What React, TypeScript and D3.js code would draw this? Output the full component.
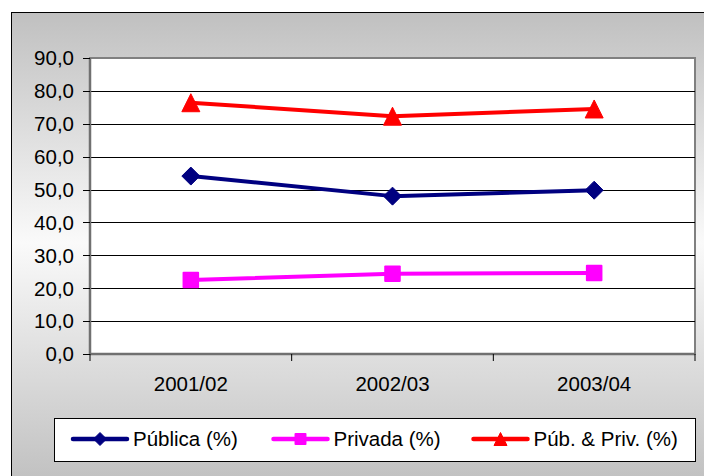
import { useMemo } from 'react';
import * as d3 from 'd3';

const categories = ['2001/02', '2002/03', '2003/04'];
const publica = [54.1, 48.0, 49.8];
const privada = [22.5, 24.4, 24.6];
const pubPriv = [76.4, 72.3, 74.5];
const yTickValues = [0, 10, 20, 30, 40, 50, 60, 70, 80, 90];

const series = [
  { label: 'Pública (%)', values: publica, color: '#000080', marker: 'diamond' },
  { label: 'Privada (%)', values: privada, color: '#FF00FF', marker: 'square' },
  { label: 'Púb. & Priv. (%)', values: pubPriv, color: '#FF0000', marker: 'triangle' },
];

const FONT = '"Liberation Sans", Arial, sans-serif';
const FS = 20.5;
const W = 704;
const H = 476;

const ptLocale = d3.formatLocale({ decimal: ',', thousands: '.', grouping: [3], currency: ['', ''] });
const fmt = ptLocale.format('.1f');

function Marker({ type, x, y, size, color }: { type: string; x: number; y: number; size: number; color: string }) {
  const h = size / 2;
  if (type === 'diamond') {
    return <path d={`M${x},${y - h}L${x + h},${y}L${x},${y + h}L${x - h},${y}Z`} fill={color} stroke={color} strokeWidth={1} strokeLinejoin="round" />;
  }
  if (type === 'square') {
    const s = size * 0.92;
    return <rect x={x - s / 2} y={y - s / 2} width={s} height={s} rx={1} fill={color} />;
  }
  return <path d={`M${x},${y - h}L${x + h},${y + h}L${x - h},${y + h}Z`} fill={color} stroke={color} strokeWidth={1} strokeLinejoin="round" />;
}

export default function App() {
  const plot = { left: 90, right: 695, top: 58, bottom: 354 };

  const { x, y } = useMemo(() => {
    const x = d3.scaleBand<string>().domain(categories).range([plot.left, plot.right]).padding(0);
    const y = d3.scaleLinear().domain([0, 90]).range([plot.bottom, plot.top]);
    return { x, y };
  }, []);

  const cx = (c: string) => (x(c) ?? 0) + x.bandwidth() / 2;
  const line = d3.line<number>()
    .x((_, i) => cx(categories[i]))
    .y((v) => y(v));

  const boundaries = [...categories.map((c) => x(c) ?? 0), plot.right];
  const legendX = [71, 271.5, 471.5];

  return (
    <svg width={W} height={H} style={{ position: 'absolute', left: 0, top: 0, display: 'block' }}>
      <defs>
        <linearGradient id="bg" x1="0" y1="0" x2="0" y2="1">
          <stop offset="0" stopColor="#C0C0C0" />
          <stop offset="0.48" stopColor="#FAFAFA" />
          <stop offset="1" stopColor="#BEBEBE" />
        </linearGradient>
      </defs>
      <rect x={0} y={0} width={W} height={H} fill="#fff" />
      {/* chart area */}
      <rect x={11.5} y={12.5} width={W} height={480} fill="url(#bg)" stroke="#000" strokeWidth={1} />

      {/* plot area */}
      <rect x={plot.left} y={plot.top} width={plot.right - plot.left} height={plot.bottom - plot.top} fill="#fff" stroke="#808080" strokeWidth={2} />

      {/* gridlines */}
      {yTickValues.filter((t) => t > 0 && t < 90).map((t) => (
        <line key={`g${t}`} x1={plot.left} x2={plot.right} y1={Math.round(y(t)) + 0.5} y2={Math.round(y(t)) + 0.5} stroke="#000" strokeWidth={1} />
      ))}

      {/* axes */}
      <line x1={plot.left} x2={plot.left} y1={plot.top} y2={plot.bottom} stroke="#707070" strokeWidth={2.5} />
      <line x1={plot.left} x2={plot.right} y1={plot.bottom} y2={plot.bottom} stroke="#707070" strokeWidth={2.5} />

      {yTickValues.map((t) => (
        <g key={`yt${t}`}>
          <line x1={plot.left - 7} x2={plot.left} y1={Math.round(y(t)) + 0.5} y2={Math.round(y(t)) + 0.5} stroke="#000" strokeWidth={1} />
          <text x={74} y={y(t)} dy="0.36em" textAnchor="end" fontFamily={FONT} fontSize={FS} fill="#000">
            {fmt(t)}
          </text>
        </g>
      ))}

      {boundaries.map((b, i) => (
        <line key={`xt${i}`} x1={b} x2={b} y1={plot.bottom} y2={plot.bottom + 7} stroke="#000" strokeWidth={1} />
      ))}
      {categories.map((c) => (
        <text key={c} x={cx(c)} y={391} textAnchor="middle" fontFamily={FONT} fontSize={FS} fill="#000">
          {c}
        </text>
      ))}

      {/* series */}
      {series.map((s) => (
        <g key={s.label}>
          <path d={line(s.values) ?? ''} fill="none" stroke={s.color} strokeWidth={4} strokeLinejoin="round" />
          {s.values.map((v, i) => (
            <Marker key={i} type={s.marker} x={cx(categories[i])} y={y(v)} size={18} color={s.color} />
          ))}
        </g>
      ))}

      {/* legend */}
      <rect x={54.5} y={418.5} width={641} height={43} fill="#fff" stroke="#000" strokeWidth={1} />
      {series.map((s, i) => (
        <g key={`lg${i}`} transform={`translate(${legendX[i]},439)`}>
          <line x1={2} x2={56} y1={0} y2={0} stroke={s.color} strokeWidth={4.5} strokeLinecap="round" />
          <Marker type={s.marker} x={29} y={0} size={13} color={s.color} />
          <text x={62} y={0} dy="0.36em" fontFamily={FONT} fontSize={FS} fill="#000">
            {s.label}
          </text>
        </g>
      ))}
    </svg>
  );
}
